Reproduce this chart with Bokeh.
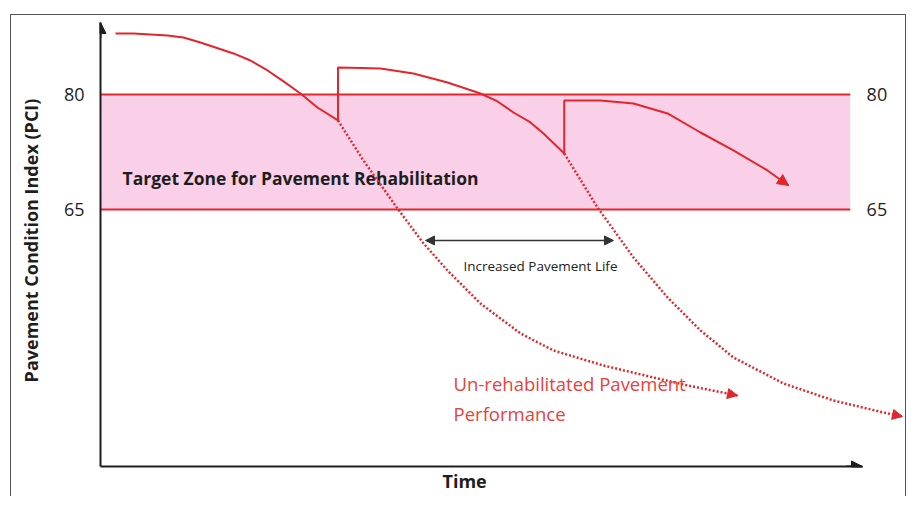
from bokeh.plotting import figure
from bokeh.models import Arrow, NormalHead, FixedTicker, Range1d, Title
from bokeh.core.properties import value
from bokeh.embed import file_html
from bokeh.resources import INLINE

# ---------------- data (time: arbitrary units, PCI) ----------------
# rehabilitated pavement path (solid): decline, rehab jump, decline, rehab jump, decline
rehab_time = [0.92, 2.02, 4.11, 5.09, 6.13, 8.16, 9.20, 10.25, 11.23, 12.27, 13.31, 14.57,
              14.57, 15.95, 17.18, 19.20, 21.29, 23.31, 24.36, 25.34, 26.38, 27.18, 28.45,
              28.45, 30.67, 32.70, 34.79, 36.81, 38.83, 40.92, 42.21]
rehab_pci = [87.96, 87.96, 87.70, 87.43, 86.78, 85.35, 84.43, 83.13, 81.70, 80.13, 78.30, 76.61,
             83.52, 83.46, 83.39, 82.74, 81.57, 80.13, 79.09, 77.65, 76.35, 74.91, 72.30,
             79.22, 79.22, 78.83, 77.52, 75.04, 72.70, 70.09, 68.13]

# un-rehabilitated decay curves (dotted)
decay1_time = [14.57, 16.13, 18.22, 19.82, 21.29, 23.31, 25.77, 27.79, 30.86, 33.93, 36.01, 39.08]
decay1_pci = [76.61, 71.39, 65.13, 60.57, 57.04, 52.74, 48.83, 46.61, 44.65, 43.09, 42.05, 40.74]
decay2_time = [28.45, 30.49, 32.70, 34.79, 36.81, 38.83, 41.90, 44.97, 48.04, 49.20]
decay2_pci = [72.30, 65.26, 58.74, 53.52, 49.22, 45.70, 42.31, 40.09, 38.52, 38.00]

# target zone bounds and tick labels
target_band = [65, 80]
tick_labels = ["65", "80"]

# increased pavement life span
life_time = [19.94, 31.47]
life_pci = 60.96

# ---------------- layout constants ----------------
RED = "#e3262b"
TEXT_RED = "#e8413c"
PINK = "#fad0e8"
DARK = "#1e1e1e"
BORDER = "#555555"
FONT = "Open Sans"
X_MIN, X_MAX = 0, 49.51
Y_MIN, Y_MAX = 31.48, 90.43
Y_AXIS_TOP = 89.39
X_AXIS_END = 46.75
BAND_END = 46.0
RIGHT_LABEL_X = 47.0

p = figure(width=907, height=496, x_range=Range1d(X_MIN, X_MAX), y_range=Range1d(Y_MIN, Y_MAX),
           output_backend="svg", toolbar_location=None)
p.min_border = 0
p.min_border_left = 100
p.min_border_right = 0
p.min_border_top = 14
p.min_border_bottom = 30
p.xgrid.visible = False
p.ygrid.visible = False
p.outline_line_color = None
p.background_fill_alpha = 0
p.border_fill_alpha = 0
# thin border of the scanned page (left, top, right)
p.styles = {
    "background": (
        f"linear-gradient({BORDER},{BORDER}) 10px 14px / 1px 100% no-repeat, "
        f"linear-gradient({BORDER},{BORDER}) 10px 14px / 896px 1px no-repeat, "
        f"linear-gradient({BORDER},{BORDER}) 905px 14px / 1px 100% no-repeat, white"
    )
}

# y axis
yax = p.yaxis[0]
yax.ticker = FixedTicker(ticks=target_band)
yax.major_label_overrides = {t: l for t, l in zip(target_band, tick_labels)}
yax.bounds = (Y_MIN, Y_AXIS_TOP)
yax.axis_line_width = 2
yax.axis_line_color = DARK
yax.major_tick_line_color = None
yax.minor_tick_line_color = None
yax.major_label_standoff = 10
yax.major_label_text_font = FONT
yax.major_label_text_font_size = "18px"
yax.major_label_text_color = DARK
yax.axis_label = "Pavement Condition Index (PCI)"
yax.axis_label_text_font = FONT
yax.axis_label_text_font_size = "18px"
yax.axis_label_text_font_style = "bold"
yax.axis_label_text_color = DARK
yax.axis_label_standoff = 18

# x axis
xax = p.xaxis[0]
xax.ticker = FixedTicker(ticks=[])
xax.bounds = (X_MIN, X_AXIS_END)
xax.axis_line_width = 2
xax.axis_line_color = DARK
xax.major_tick_line_color = None
xax.minor_tick_line_color = None

p.add_layout(Title(text="Time", align="left", offset=342, text_font=FONT, text_font_size="18px",
                   text_font_style="bold", text_color=DARK, standoff=0), "below")

# axis arrowheads
p.add_layout(Arrow(end=NormalHead(size=11, fill_color=DARK, line_color=DARK),
                   x_start=X_MIN, y_start=Y_AXIS_TOP - 2, x_end=X_MIN, y_end=Y_AXIS_TOP,
                   line_color=DARK, line_width=2))
p.add_layout(Arrow(end=NormalHead(size=11, fill_color=DARK, line_color=DARK),
                   x_start=X_AXIS_END - 1, y_start=Y_MIN, x_end=X_AXIS_END, y_end=Y_MIN,
                   line_color=DARK, line_width=2))

# target zone band
p.varea(x=[X_MIN, BAND_END], y1=[target_band[0]] * 2, y2=[target_band[1]] * 2, fill_color=PINK)
for lvl in target_band:
    p.line(x=[X_MIN, BAND_END], y=[lvl, lvl], line_color=RED, line_width=2)
p.text(x=[RIGHT_LABEL_X] * 2, y=target_band, text=tick_labels, text_font=value(FONT),
       text_font_size="18px", text_color=DARK, text_baseline="middle", text_align="left")
p.text(x=[1.35], y=[69.17], text=["Target Zone for Pavement Rehabilitation"], text_font=value(FONT),
       text_font_size="17.5px", text_font_style="bold", text_color=DARK, text_baseline="middle",
       text_align="left")

# decay curves (dotted)
for xs, ys in ((decay1_time, decay1_pci), (decay2_time, decay2_pci)):
    p.line(x=xs, y=ys, line_color=RED, line_width=2.5, line_dash="2 2")
    p.add_layout(Arrow(end=NormalHead(size=10, fill_color=RED, line_color=RED),
                       x_start=xs[-2], y_start=ys[-2], x_end=xs[-1], y_end=ys[-1],
                       line_alpha=0))

# rehabilitated path (solid)
p.line(x=rehab_time, y=rehab_pci, line_color=RED, line_width=2)
p.add_layout(Arrow(end=NormalHead(size=11, fill_color=RED, line_color=RED),
                   x_start=rehab_time[-2], y_start=rehab_pci[-2],
                   x_end=rehab_time[-1], y_end=rehab_pci[-1], line_alpha=0))

# increased pavement life
p.add_layout(Arrow(start=NormalHead(size=9, fill_color="#333333", line_color="#333333"),
                   end=NormalHead(size=9, fill_color="#333333", line_color="#333333"),
                   x_start=life_time[0], y_start=life_pci, x_end=life_time[1], y_end=life_pci,
                   line_color="#333333", line_width=1.5))
p.text(x=[26.99], y=[57.57], text=["Increased Pavement Life"], text_font=value(FONT),
       text_font_size="13.5px", text_color="#222222", text_baseline="middle", text_align="center")

# un-rehabilitated label
p.text(x=[21.66, 21.66], y=[42.31, 38.39], text=["Un-rehabilitated Pavement", "Performance"],
       text_font=value(FONT), text_font_size="18.5px", text_color=TEXT_RED,
       text_baseline="middle", text_align="left")

open("out.html", "w").write(file_html(p, INLINE))
